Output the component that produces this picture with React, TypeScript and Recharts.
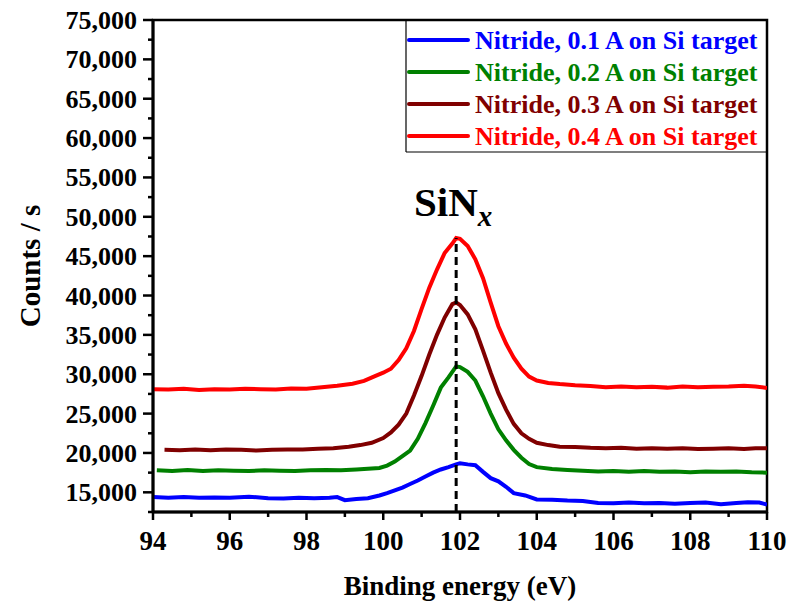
import React from "react";
import {
  Label,
  Line,
  LineChart,
  ReferenceArea,
  ReferenceLine,
  XAxis,
  YAxis,
} from "recharts";

const FONT = "'Liberation Serif', 'Times New Roman', serif";

// [binding energy (eV), counts / s]
const nitride01: [number, number][] = [
  [94.0, 14400], [94.4, 14300], [94.8, 14400], [95.2, 14300], [95.6, 14350],
  [96.0, 14300], [96.5, 14450], [97.0, 14250], [97.4, 14200], [97.8, 14300],
  [98.2, 14250], [98.6, 14300], [98.8, 14400], [99.0, 14000], [99.3, 14150],
  [99.6, 14250], [99.9, 14600], [100.1, 14900], [100.3, 15250], [100.5, 15600],
  [100.7, 16050], [100.9, 16500], [101.1, 17000], [101.3, 17500], [101.5, 17900],
  [101.7, 18200], [101.9, 18550], [102.0, 18700], [102.2, 18550], [102.4, 18450],
  [102.6, 17600], [102.8, 16800], [103.0, 16400], [103.2, 15700], [103.4, 14900],
  [103.7, 14600], [104.0, 14100], [104.4, 14050], [104.8, 13950], [105.2, 13900],
  [105.6, 13650], [106.0, 13600], [106.4, 13700], [106.8, 13600], [107.2, 13650],
  [107.6, 13550], [108.0, 13650], [108.4, 13700], [108.8, 13500], [109.2, 13650],
  [109.5, 13750], [109.8, 13700], [110.0, 13450],
];

const nitride02: [number, number][] = [
  [94.1, 17800], [94.5, 17700], [94.9, 17850], [95.3, 17700], [95.7, 17800],
  [96.1, 17750], [96.5, 17700], [96.9, 17800], [97.3, 17750], [97.7, 17700],
  [98.1, 17800], [98.5, 17850], [98.9, 17800], [99.3, 17900], [99.6, 18000],
  [99.9, 18100], [100.1, 18400], [100.3, 18900], [100.5, 19600], [100.7, 20300],
  [100.9, 21800], [101.1, 23800], [101.3, 26000], [101.5, 28300], [101.7, 29600],
  [101.9, 31000], [102.0, 30900], [102.2, 30300], [102.4, 29200], [102.6, 27200],
  [102.8, 25000], [103.0, 23000], [103.2, 21600], [103.4, 20400], [103.6, 19400],
  [103.8, 18600], [104.0, 18200], [104.4, 17950], [104.8, 17850], [105.2, 17750],
  [105.6, 17650], [106.0, 17700], [106.4, 17600], [106.8, 17700], [107.2, 17600],
  [107.6, 17650], [108.0, 17550], [108.4, 17650], [108.8, 17600], [109.2, 17650],
  [109.6, 17550], [110.0, 17500],
];

const nitride03: [number, number][] = [
  [94.3, 20400], [94.7, 20350], [95.1, 20450], [95.5, 20350], [95.9, 20450],
  [96.3, 20400], [96.7, 20300], [97.1, 20400], [97.5, 20450], [97.9, 20450],
  [98.3, 20550], [98.7, 20600], [99.1, 20800], [99.4, 21000], [99.7, 21300],
  [100.0, 21900], [100.2, 22600], [100.4, 23600], [100.6, 25000], [100.8, 27300],
  [101.0, 29800], [101.2, 32500], [101.4, 35000], [101.6, 37200], [101.8, 38900],
  [101.9, 39100], [102.0, 38800], [102.2, 37600], [102.4, 35700], [102.6, 33000],
  [102.8, 30200], [103.0, 27600], [103.2, 25500], [103.4, 23700], [103.6, 22500],
  [103.8, 21800], [104.0, 21300], [104.3, 21000], [104.6, 20800], [105.0, 20750],
  [105.4, 20650], [105.8, 20600], [106.2, 20650], [106.6, 20550], [107.0, 20600],
  [107.4, 20550], [107.8, 20600], [108.2, 20500], [108.6, 20550], [109.0, 20600],
  [109.4, 20500], [109.7, 20600], [110.0, 20600],
];

const nitride04: [number, number][] = [
  [94.0, 28100], [94.4, 28050], [94.8, 28150], [95.2, 28000], [95.6, 28100],
  [96.0, 28050], [96.4, 28150], [96.8, 28100], [97.2, 28050], [97.6, 28200],
  [98.0, 28150], [98.4, 28350], [98.8, 28550], [99.2, 28800], [99.5, 29150],
  [99.8, 29800], [100.0, 30200], [100.2, 30700], [100.4, 31800], [100.6, 33300],
  [100.8, 35500], [101.0, 38300], [101.2, 41000], [101.4, 43300], [101.6, 45400],
  [101.8, 46600], [101.9, 47300], [102.0, 47200], [102.2, 46300], [102.4, 44600],
  [102.6, 42200], [102.8, 39100], [103.0, 36100], [103.2, 33900], [103.4, 32100],
  [103.6, 30700], [103.8, 29700], [104.0, 29200], [104.3, 28900], [104.6, 28750],
  [105.0, 28600], [105.4, 28500], [105.8, 28350], [106.2, 28450], [106.6, 28350],
  [107.0, 28400], [107.4, 28300], [107.8, 28450], [108.2, 28350], [108.6, 28400],
  [109.0, 28450], [109.4, 28550], [109.7, 28450], [110.0, 28250],
];

const xTicks = [94, 95, 96, 97, 98, 99, 100, 101, 102, 103, 104, 105, 106, 107, 108, 109, 110];
const yTicks = [
  12500, 15000, 17500, 20000, 22500, 25000, 27500, 30000, 32500, 35000, 37500,
  40000, 42500, 45000, 47500, 50000, 52500, 55000, 57500, 60000, 62500, 65000,
  67500, 70000, 72500, 75000,
];

const peakX = 101.9;
const peakY = 47300;

const series = [
  { name: "Nitride, 0.1 A on Si target", color: "#0000FF", points: nitride01 },
  { name: "Nitride, 0.2 A on Si target", color: "#008000", points: nitride02 },
  { name: "Nitride, 0.3 A on Si target", color: "#800000", points: nitride03 },
  { name: "Nitride, 0.4 A on Si target", color: "#FF0000", points: nitride04 },
];

const toRows = (pts: [number, number][]) => pts.map(([x, y]) => ({ x, y }));

const XTick = (props: any) => {
  const { x, y, payload } = props;
  const major = payload.value % 2 === 0;
  return (
    <g>
      <line x1={x} y1={y} x2={x} y2={y + (major ? 8 : 5)} stroke="#000" strokeWidth={2.5} />
      {major && (
        <text x={x} y={y + 38} textAnchor="middle" fontFamily={FONT} fontWeight="bold" fontSize={27} fill="#000">
          {payload.value}
        </text>
      )}
    </g>
  );
};

const YTick = (props: any) => {
  const { x, y, payload } = props;
  const major = payload.value % 5000 === 0;
  return (
    <g>
      <line x1={x - (major ? 10 : 5)} y1={y} x2={x} y2={y} stroke="#000" strokeWidth={2.5} />
      {major && (
        <text x={x - 16} y={y + 9} textAnchor="end" fontFamily={FONT} fontWeight="bold" fontSize={26} fill="#000">
          {payload.value.toLocaleString("en-US")}
        </text>
      )}
    </g>
  );
};

export default function App() {
  return (
    <div style={{ position: "absolute", left: 8, top: 8, width: 779, height: 594 }}>
      <style>{"body { margin: 0; overflow: hidden; } .recharts-surface { overflow: visible; }"}</style>
      <LineChart
        width={779}
        height={594}
        margin={{ top: 12, right: 20, left: 0, bottom: 0 }}
        style={{ overflow: "visible" }}
      >
        <XAxis
          dataKey="x"
          type="number"
          domain={[94, 110]}
          ticks={xTicks}
          interval={0}
          allowDataOverflow
          height={90}
          tickSize={0}
          tickMargin={0}
          tickLine={false}
          tick={<XTick />}
          axisLine={{ stroke: "#000", strokeWidth: 3 }}
        >
          <Label
            value="Binding energy (eV)"
            position="insideBottom"
            offset={7}
            fontSize={27}
            fontWeight="bold"
            fontFamily={FONT}
            fill="#000"
          />
        </XAxis>
        <YAxis
          type="number"
          domain={[12500, 75000]}
          ticks={yTicks}
          interval={0}
          allowDataOverflow
          width={145}
          tickSize={0}
          tickMargin={0}
          tickLine={false}
          tick={<YTick />}
          axisLine={{ stroke: "#000", strokeWidth: 3 }}
        >
          <Label
            value="Counts / s"
            angle={-90}
            position="insideLeft"
            offset={22}
            fontSize={29}
            fontWeight="bold"
            fontFamily={FONT}
            fill="#000"
            style={{ textAnchor: "middle" }}
          />
        </YAxis>
        <ReferenceArea x1={94} x2={110} y1={12500} y2={75000} fill="none" stroke="#000" strokeWidth={2.5} />
        {series.map((s) => (
          <Line
            key={s.name}
            data={toRows(s.points)}
            dataKey="y"
            name={s.name}
            type="linear"
            stroke={s.color}
            strokeWidth={4}
            dot={false}
            isAnimationActive={false}
          />
        ))}
        <ReferenceLine
          segment={[{ x: peakX, y: 12500 }, { x: peakX, y: peakY }]}
          stroke="#000"
          strokeWidth={3}
          strokeDasharray="8 5"
        />
      </LineChart>
      <svg
        width={779}
        height={594}
        style={{ position: "absolute", left: 0, top: 0, pointerEvents: "none", overflow: "visible" }}
      >
        <line x1={398} y1={12} x2={398} y2={144} stroke="#000" strokeWidth={1.2} />
        <line x1={398} y1={144} x2={759} y2={144} stroke="#000" strokeWidth={1.2} />
        {series.map((s, i) => {
          const cy = 32 + i * 32;
          return (
            <g key={s.name}>
              <line x1={401} y1={cy} x2={460} y2={cy} stroke={s.color} strokeWidth={4} strokeLinecap="round" />
              <text x={467} y={cy + 9} fontFamily={FONT} fontWeight="bold" fontSize={26} fill={s.color}>
                {s.name}
              </text>
            </g>
          );
        })}
        <text x={406} y={208} fontFamily={FONT} fontWeight="bold" fontSize={41} fill="#000">
          SiN
          <tspan fontStyle="italic" fontSize={29} dy={10}>
            x
          </tspan>
        </text>
      </svg>
    </div>
  );
}
